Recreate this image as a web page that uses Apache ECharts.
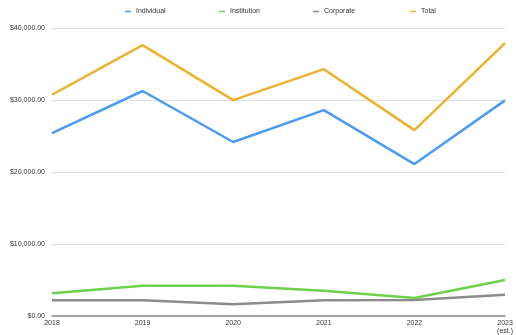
<!DOCTYPE html>
<html>
<head>
<meta charset="utf-8">
<script src="https://cdn.jsdelivr.net/npm/echarts@6/dist/echarts.min.js"></script>
<style>
  html, body { margin: 0; padding: 0; background: #fff; }
  #chart { width: 516px; height: 335px; }
</style>
</head>
<body>
<div id="chart"></div>
<script>
// 年份
const years = ['2018', '2019', '2020', '2021', '2022', '2023\n(est.)'];
// 各系列数值
const individual = [25400, 31250, 24170, 28600, 21100, 29950];
const institution = [3150, 4200, 4200, 3500, 2500, 5000];
const corporate = [2180, 2180, 1620, 2180, 2220, 2960];
const total = [30730, 37630, 29990, 34280, 25820, 37910];

const names = ['Individual', 'Institution', 'Corporate', 'Total'];
const colors = ['#4a9bf4', '#6ed14b', '#8c8c8c', '#ecb22e'];
const legendLeft = [120, 214, 308, 405];

const font = 'Liberation Sans, Arial, Helvetica, sans-serif';

const mychart = echarts.init(document.getElementById('chart'));

function money(v) {
  return '$' + Number(v).toLocaleString('en-US', { minimumFractionDigits: 2, maximumFractionDigits: 2 });
}

const option = {
  animation: false,
  color: colors,
  legend: names.map((n, i) => ({
    data: [n],
    left: legendLeft[i],
    top: 3,
    icon: 'rect',
    itemWidth: 6,
    itemHeight: 1.5,
    itemGap: 0,
    textStyle: { fontSize: 7, color: '#333', fontFamily: font, padding: [0, 0, 0, 0] },
  })),
  grid: {
    left: 52,
    right: 10,
    top: 28,
    bottom: 19,
  },
  xAxis: {
    type: 'category',
    boundaryGap: false,
    data: years,
    axisTick: { show: false },
    axisLine: { lineStyle: { color: '#8a8a8a', width: 1.5 } },
    axisLabel: {
      fontSize: 7,
      color: '#333',
      fontFamily: font,
      margin: 3,
      lineHeight: 8,
      interval: 0,
    },
  },
  yAxis: {
    type: 'value',
    min: 0,
    max: 40000,
    interval: 10000,
    axisLine: { show: false },
    axisTick: { show: false },
    splitLine: { lineStyle: { color: '#e0e0e0', width: 1 } },
    axisLabel: {
      fontSize: 7,
      color: '#333',
      fontFamily: font,
      margin: 7,
      formatter: money,
    },
  },
  series: [
    { name: 'Individual', data: individual },
    { name: 'Institution', data: institution },
    { name: 'Corporate', data: corporate },
    { name: 'Total', data: total },
  ].map((s, i) => ({
    name: s.name,
    type: 'line',
    data: s.data,
    symbol: 'none',
    lineStyle: { width: 2.5, color: colors[i] },
    itemStyle: { color: colors[i] },
  })),
};

mychart.setOption(option);
</script>
</body>
</html>
